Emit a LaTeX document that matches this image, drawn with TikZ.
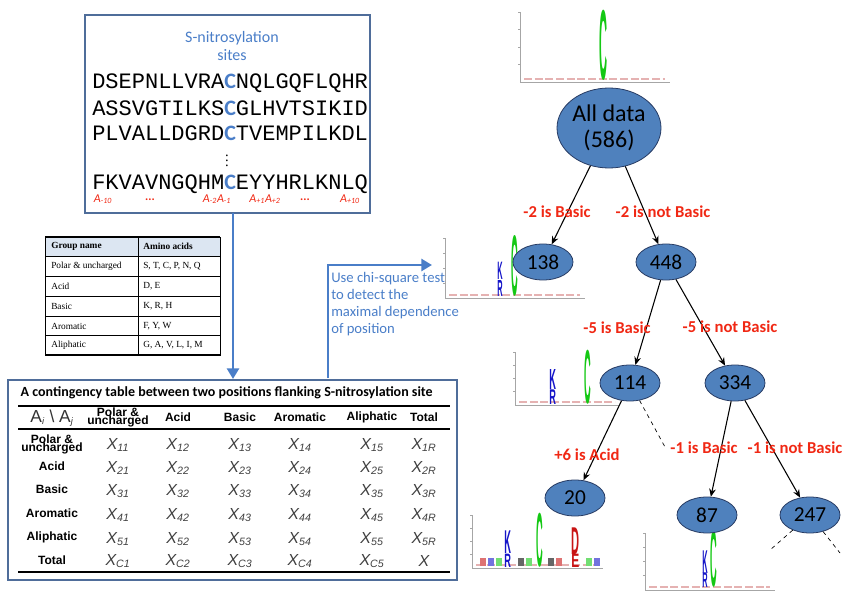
\documentclass[tikz,border=0pt]{standalone}
\usepackage{fontspec}
\setmainfont{Liberation Serif}
\setsansfont{Carlito}
\newfontfamily\arialfont{Liberation Sans}
\newfontfamily\monofont{Liberation Mono}
\usetikzlibrary{shapes.geometric,arrows.meta,positioning}

\definecolor{boxblue}{RGB}{79,109,154}
\definecolor{nodeblue}{RGB}{79,129,189}
\definecolor{nodeline}{RGB}{40,60,100}
\definecolor{textblue}{RGB}{74,126,200}
\definecolor{labred}{RGB}{240,40,20}
\definecolor{logogreen}{RGB}{20,200,20}
\definecolor{logoblue}{RGB}{20,20,200}
\definecolor{logored}{RGB}{200,20,20}
\definecolor{headfill}{RGB}{220,230,242}

\tikzset{
  treenode/.style={ellipse, draw=nodeline, fill=nodeblue, line width=0.6pt, font=\sffamily\fontsize{16}{16}\selectfont, minimum width=45pt, minimum height=27pt, inner sep=0pt},
  edge/.style={-{Stealth[length=6pt,width=5pt]}, line width=0.8pt},
  splitlab/.style={text=labred, font=\sffamily\bfseries\fontsize{12.5}{12.5}\selectfont},
  seqline/.style={anchor=west, font=\monofont\fontsize{16.5}{16.5}\selectfont, inner sep=0pt},
  poslab/.style={text=labred, font=\sffamily\itshape\fontsize{9}{9}\selectfont, inner sep=0pt},
  bigarrow/.style={draw=textblue, line width=2.2pt, -{Triangle[length=8pt,width=9pt]}},
  colhead/.style={font=\arialfont\bfseries\fontsize{9}{8}\selectfont, align=center, inner sep=0pt},
  cell/.style={font=\arialfont\itshape\fontsize{12}{12}\selectfont, text=black!75, inner sep=0pt},
}

% sequence logo: axis at x, top y, bottom y, baseline end
\newcommand{\seqlogo}[4]{%
  \draw[gray!70, line width=0.4pt] (#1,#2) -- (#1,#3) -- (#4,#3);
  \foreach \t in {0,0.25,0.5,0.75} \draw[gray!70] (#1,{#2+\t*(#3-#2)}) -- ++(-2,0);
  \draw[pink!80!gray, line width=1.2pt, dash pattern=on 6pt off 2pt] (#1+4,#3-3) -- (#4-5,#3-3);
}
% one logo letter stretched into a box
\newcommand{\logoletter}[6]{%
  \node[inner sep=0pt, anchor=base west, text=#6] at (#1,#3) {\resizebox{#2}{#4}{\arialfont\bfseries #5}};
}

\begin{document}
\begin{tikzpicture}[x=0.75pt, y=-0.75pt]
\useasboundingbox (0,0) rectangle (846,602);

% sequences box
\draw[boxblue, line width=1.6pt] (85,15) rectangle (370,213);
\node[text=textblue, font=\sffamily\fontsize{12}{14}\selectfont, align=center] (sitestitle) at (232,46) {S-nitrosylation\\sites};
\node[seqline] (seqa) at (92,83) {DSEPNLLVRA{\sffamily\bfseries\color{textblue}C}NQLGQFLQHR};
\node[seqline] (seqb) at (92,108) {ASSVGTILKS{\sffamily\bfseries\color{textblue}C}GLHVTSIKID};
\node[seqline] (seqc) at (92,133) {PLVALLDGRD{\sffamily\bfseries\color{textblue}C}TVEMPILKDL};
\node[font=\fontsize{11}{11}\selectfont, inner sep=0pt] (vdots) at (227,157) {$\vdots$};
\node[seqline] (seqd) at (92,184) {FKVAVNGQHM{\sffamily\bfseries\color{textblue}C}EYYHRLKNLQ};
\node[poslab] (pa) at (103,199) {A\textsubscript{-10}};
\node[poslab] (pb) at (150,200) {\upshape\bfseries ...};
\node[poslab] (pc) at (217,199) {A\textsubscript{-2}A\textsubscript{-1}};
\node[poslab] (pd) at (265,199) {A\textsubscript{+1}A\textsubscript{+2}};
\node[poslab] (pe) at (305,200) {\upshape\bfseries ...};
\node[poslab] (pf) at (350,199) {A\textsubscript{+10}};

% group table
\fill[headfill] (45,237) rectangle (220,256);
\draw[line width=0.5pt] (45,237) rectangle (220,355);
\draw[line width=1.4pt] (45,237) -- (220,237) (45,355) -- (220,355);
\foreach \yy in {256,276,296,316,335} \draw[line width=0.5pt] (45,\yy) -- (220,\yy);
\draw[line width=0.5pt] (138,237) -- (138,355);
\foreach \ya/\ga/\gb [count=\i] in {246/{\bfseries Group name}/{\bfseries Amino acids}, 266/Polar \& uncharged/{S, T, C, P, N, Q}, 286/Acid/{D, E}, 306/Basic/{K, R, H}, 326/Aromatic/{F, Y, W}, 345/Aliphatic/{G, A, V, L, I, M}}{
  \node[anchor=west, font=\fontsize{7}{7}\selectfont, inner sep=0pt] (gname\i) at (51,\ya) {\ga};
  \node[anchor=west, font=\fontsize{7}{7}\selectfont, inner sep=0pt] (gacid\i) at (143,\ya) {\gb};
}

% contingency table
\draw[boxblue, line width=1.6pt] (8,380) rectangle (457,580);
\node[anchor=west, font=\sffamily\bfseries\fontsize{10.5}{10.5}\selectfont] (cttitle) at (16,393) {A contingency table between two positions flanking S-nitrosylation site};
\draw[line width=1.2pt] (18,406) -- (450,406);
\draw[line width=0.8pt] (18,429) -- (450,429);
\draw[line width=1.2pt] (18,572) -- (450,572);
\node[font=\arialfont\fontsize{13}{13}\selectfont, text=black!80] (corner) at (52,418) {A\textsubscript{\scriptsize\itshape i} \textbackslash\ A\textsubscript{\scriptsize\itshape j}};
\foreach \xx/\hh [count=\c] in {118/{Polar \&\\[-2pt]uncharged}, 178/Acid, 240/Basic, 300/Aromatic, 372/Aliphatic, 424/Total}
  \node[colhead] (colh\c) at (\xx,417) {\hh};
\foreach \yy/\hh [count=\r] in {444/{Polar \&\\[-2pt]uncharged}, 466/Acid, 489/Basic, 513/Aromatic, 537/Aliphatic, 560/Total}
  \node[colhead] (rowh\r) at (52,\yy) {\hh};
\foreach \yy/\ri [count=\r] in {445/1, 468/2, 491/3, 515/4, 539/5, 561/C}{
  \foreach \xx/\ci [count=\c] in {118/1, 178/2, 240/3, 300/4, 372/5}
    \node[cell] (x\r\c) at (\xx,\yy) {X\textsubscript{\ri\ci}};
}
\foreach \yy/\ri [count=\r] in {445/1R, 468/2R, 491/3R, 515/4R, 539/5R}
  \node[cell] (xt\r) at (424,\yy) {X\textsubscript{\ri}};
\node[cell] (xtot) at (424,561) {X};

% blue arrows
\coordinate (downstart) at (233,213);
\coordinate (downend) at (233,379);
\draw[bigarrow] (downstart) -- (downend);
\coordinate (upstart) at (328,378);
\coordinate (upcorner) at (328,265);
\coordinate (upend) at (432,265);
\draw[bigarrow] (upstart) -- (upcorner) -- (upend);
\node[anchor=north west, text=textblue, font=\sffamily\fontsize{11}{12.8}\selectfont, align=left, inner sep=0pt] (chitext) at (331,272) {Use chi-square test\\to detect the\\maximal dependence\\of position};

% sequence logos
\seqlogo{520}{12}{82}{670}
\logoletter{599}{6pt}{80}{52pt}{C}{logogreen}
\seqlogo{445}{238}{298}{585}
\logoletter{497}{4pt}{280}{13pt}{K}{logoblue}
\logoletter{497}{4pt}{297}{12pt}{R}{logoblue}
\logoletter{511}{5pt}{296}{45pt}{C}{logogreen}
\seqlogo{515}{352}{405}{620}
\logoletter{549}{5pt}{389}{15pt}{K}{logoblue}
\logoletter{549}{5pt}{404}{11pt}{R}{logoblue}
\logoletter{584}{5pt}{403}{40pt}{C}{logogreen}
\seqlogo{472}{515}{568}{603}
\logoletter{504}{5pt}{553}{17pt}{K}{logoblue}
\logoletter{504}{5pt}{567}{10pt}{R}{logoblue}
\logoletter{536}{5pt}{566}{40pt}{C}{logogreen}
\logoletter{571}{6pt}{554}{20pt}{D}{logored}
\logoletter{571}{6pt}{567}{10pt}{E}{logored}
\foreach \lx/\lc in {480/logored, 488/logoblue, 496/logogreen, 518/black, 526/logogreen, 548/black, 556/logored, 586/logogreen, 594/logoblue}
  \fill[\lc!60] (\lx,566) rectangle ++(6,-8);
\seqlogo{645}{533}{590}{775}
\logoletter{702}{4pt}{573}{17pt}{K}{logoblue}
\logoletter{702}{4pt}{587}{11pt}{R}{logoblue}
\logoletter{710}{5pt}{586}{42pt}{C}{logogreen}

% decision tree
\node[treenode, minimum width=78pt, minimum height=60pt, font=\sffamily\fontsize{18}{20}\selectfont, align=center] (alldata) at (609,128) {All data\\(586)};
\node[treenode] (n138) at (543,262) {138};
\node[treenode] (n448) at (666,262) {448};
\node[treenode] (n114) at (630,383) {114};
\node[treenode] (n334) at (735,383) {334};
\node[treenode] (n20) at (575,498) {20};
\node[treenode] (n87) at (707,515) {87};
\node[treenode] (n247) at (810,515) {247};
\draw[edge] (alldata) -- (n138);
\draw[edge] (alldata) -- (n448);
\draw[edge] (n448) -- (n114);
\draw[edge] (n448) -- (n334);
\draw[edge] (n114) -- (n20);
\draw[edge] (n334) -- (n87);
\draw[edge] (n334) -- (n247);
\coordinate (cut114) at (665,447);
\coordinate (cut247a) at (770,550);
\coordinate (cut247b) at (840,553);
\draw[dashed, line width=0.5pt] (n114) -- (cut114);
\draw[dashed, line width=0.5pt] (n247) -- (cut247a);
\draw[dashed, line width=0.5pt] (n247) -- (cut247b);
\node[splitlab] (s1) at (557,212) {-2 is Basic};
\node[splitlab] (s2) at (663,212) {-2 is not Basic};
\node[splitlab] (s3) at (617,328) {-5 is Basic};
\node[splitlab] (s4) at (730,327) {-5 is not Basic};
\node[splitlab] (s5) at (587,455) {+6 is Acid};
\node[splitlab] (s6) at (704,448) {-1 is Basic};
\node[splitlab] (s7) at (795,448) {-1 is not Basic};
\end{tikzpicture}
\end{document}
